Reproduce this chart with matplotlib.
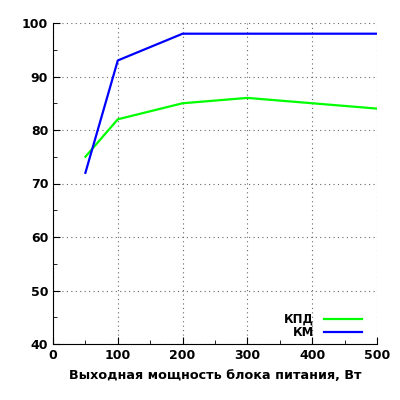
import matplotlib
matplotlib.use("Agg")
import matplotlib.pyplot as plt
from matplotlib.ticker import MultipleLocator

power = [50, 100, 200, 300, 400, 500]
kpd = [75, 82, 85, 86, 85, 84]
km = [72, 93, 98, 98, 98, 98]

plt.rcParams['font.family'] = ['DejaVu Sans']
plt.rcParams['font.weight'] = 'bold'

fig = plt.figure(figsize=(4, 4), dpi=100)
ax = fig.add_axes([0.1325, 0.14, 0.81, 0.8025])

ax.plot(power, kpd, color='#00ff00', lw=1.6, label='КПД')
ax.plot(power, km, color='#0000ff', lw=1.6, label='КМ')

ax.set_xlim(0, 500)
ax.set_ylim(40, 100)
ax.xaxis.set_major_locator(MultipleLocator(100))
ax.xaxis.set_minor_locator(MultipleLocator(50))
ax.yaxis.set_major_locator(MultipleLocator(10))
ax.yaxis.set_minor_locator(MultipleLocator(5))
ax.tick_params(which='both', direction='in', labelsize=9)
ax.tick_params(which='major', length=5)
ax.tick_params(which='minor', length=3)
for lbl in ax.get_xticklabels() + ax.get_yticklabels():
    lbl.set_fontweight('bold')
ax.spines['top'].set_visible(False)
ax.spines['right'].set_visible(False)
ax.grid(True, which='major', linestyle=(0, (1, 3)), color='#666666', lw=0.8)

ax.set_xlabel('Выходная мощность блока питания, Вт', fontsize=9.2, fontweight='bold', labelpad=5)

ax.legend(loc='lower right', frameon=False, markerfirst=False, fontsize=8.5,
          handlelength=3.2, labelspacing=0.05, borderaxespad=0.0,
          bbox_to_anchor=(0.967, 0.0))

fig.savefig('out.png', dpi=100)
